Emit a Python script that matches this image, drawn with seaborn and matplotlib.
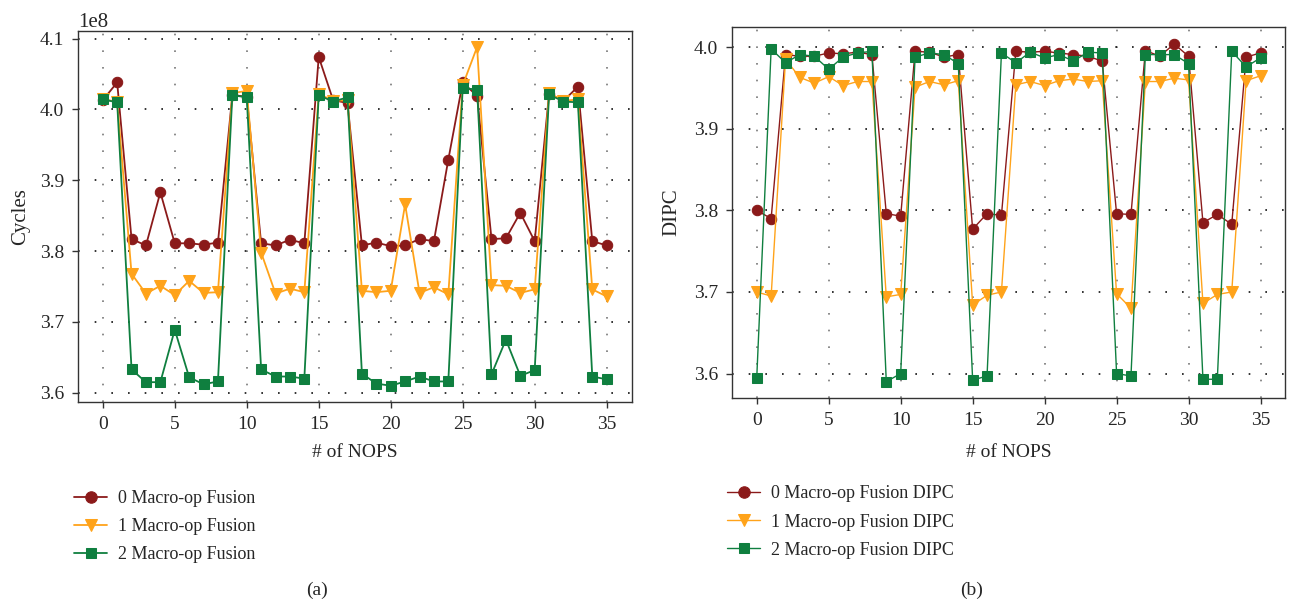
import numpy as np
import pandas as pd
import matplotlib
matplotlib.use('Agg')
import matplotlib.pyplot as plt
import seaborn as sns

sns.set_theme(style="white")
plt.rcParams['font.family'] = ['Liberation Serif', 'DejaVu Serif']

# Data
nops = list(range(36))

cycles_0 = [4.013, 4.038, 3.817, 3.808, 3.883, 3.811, 3.811, 3.809, 3.812, 4.020,
            4.018, 3.811, 3.808, 3.816, 3.811, 4.074, 4.013, 4.009, 3.808, 3.812,
            3.807, 3.808, 3.817, 3.814, 3.929, 4.038, 4.019, 3.817, 3.818, 3.854,
            3.814, 4.022, 4.012, 4.032, 3.814, 3.808]
cycles_1 = [4.014, 4.011, 3.768, 3.740, 3.751, 3.738, 3.758, 3.741, 3.742, 4.023,
            4.026, 3.798, 3.740, 3.747, 3.742, 4.022, 4.012, 4.013, 3.744, 3.742,
            3.744, 3.866, 3.741, 3.749, 3.739, 4.034, 4.088, 3.752, 3.751, 3.741,
            3.746, 4.023, 4.012, 4.014, 3.746, 3.736]
cycles_2 = [4.014, 4.010, 3.633, 3.615, 3.615, 3.689, 3.622, 3.612, 3.616, 4.020,
            4.017, 3.633, 3.623, 3.623, 3.620, 4.020, 4.011, 4.017, 3.627, 3.613,
            3.610, 3.616, 3.623, 3.616, 3.616, 4.030, 4.028, 3.626, 3.675, 3.624,
            3.632, 4.021, 4.011, 4.010, 3.623, 3.619]

dipc_0 = [3.800, 3.790, 3.991, 3.989, 3.989, 3.993, 3.992, 3.994, 3.991, 3.796,
          3.793, 3.995, 3.994, 3.988, 3.991, 3.777, 3.796, 3.794, 3.995, 3.994,
          3.995, 3.993, 3.991, 3.989, 3.983, 3.796, 3.795, 3.996, 3.989, 4.004,
          3.989, 3.785, 3.795, 3.783, 3.988, 3.993]
dipc_1 = [3.700, 3.695, 3.985, 3.963, 3.956, 3.964, 3.953, 3.958, 3.958, 3.694,
          3.697, 3.951, 3.958, 3.954, 3.959, 3.684, 3.696, 3.700, 3.954, 3.958,
          3.953, 3.959, 3.961, 3.958, 3.959, 3.698, 3.680, 3.958, 3.958, 3.962,
          3.960, 3.686, 3.697, 3.700, 3.959, 3.965]
dipc_2 = [3.595, 3.998, 3.981, 3.991, 3.989, 3.973, 3.988, 3.993, 3.995, 3.590,
          3.600, 3.988, 3.993, 3.991, 3.980, 3.592, 3.597, 3.993, 3.981, 3.994,
          3.987, 3.991, 3.983, 3.994, 3.993, 3.600, 3.597, 3.991, 3.991, 3.991,
          3.980, 3.593, 3.593, 3.995, 3.976, 3.987]

labels_a = ['0 Macro-op Fusion', '1 Macro-op Fusion', '2 Macro-op Fusion']
labels_b = ['0 Macro-op Fusion DIPC', '1 Macro-op Fusion DIPC', '2 Macro-op Fusion DIPC']

colors = ['#8b1a1a', '#ffa31a', '#0f7f3f']
markers = ['o', 'v', 's']
msizes = [7.5, 8, 7]

fig = plt.figure(figsize=(12.93, 6.06), dpi=100)
ax1 = fig.add_axes([0.0601, 0.3366, 0.4287, 0.6127])
ax2 = fig.add_axes([0.5659, 0.3432, 0.4279, 0.6118])


def style_axis(ax):
    for s in ax.spines.values():
        s.set_color('#333333')
        s.set_linewidth(1.0)
    ax.tick_params(axis='both', which='major', direction='out', length=4,
                   width=1, color='#333333', labelsize=14, left=True, bottom=True,
                   pad=6)
    ax.xaxis.grid(True, color='#777777', linestyle=(0, (1, 9)), linewidth=1.2)
    ax.yaxis.grid(True, color='#111111', linestyle=(0, (1, 9)), linewidth=1.2)
    ax.set_axisbelow(True)


series_a = [cycles_0, cycles_1, cycles_2]
for vals, lab, c, m, ms in zip(series_a, labels_a, colors, markers, msizes):
    sns.lineplot(x=nops, y=np.array(vals) * 1e8, ax=ax1, color=c, marker=m,
                 markersize=ms, markeredgecolor=c, linewidth=1.3, label=lab)

series_b = [dipc_0, dipc_1, dipc_2]
for vals, lab, c, m, ms in zip(series_b, labels_b, colors, markers, msizes):
    sns.lineplot(x=nops, y=vals, ax=ax2, color=c, marker=m,
                 markersize=ms, markeredgecolor=c, linewidth=1.0, label=lab)

ax1.set_xlim(-1.74, 36.76)
ax1.set_ylim(3.587e8, 4.111e8)
ax1.set_yticks(np.array([3.6, 3.7, 3.8, 3.9, 4.0, 4.1]) * 1e8)
ax1.set_xticks(range(0, 36, 5))
ax1.set_xlabel('# of NOPS', fontsize=14, labelpad=8)
ax1.set_ylabel('Cycles', fontsize=15, labelpad=7)
ax1.yaxis.get_offset_text().set_fontsize(15)

ax2.set_xlim(-1.74, 36.7)
ax2.set_ylim(3.570, 4.0245)
ax2.set_yticks([3.6, 3.7, 3.8, 3.9, 4.0])
ax2.set_yticklabels(['3.6', '3.7', '3.8', '3.9', '4.0'])
ax2.set_xticks(range(0, 36, 5))
ax2.set_xlabel('# of NOPS', fontsize=14, labelpad=11)
ax2.set_ylabel('DIPC', fontsize=15, labelpad=9)

style_axis(ax1)
style_axis(ax2)

ax1.legend(loc='upper left', bbox_to_anchor=(0.052, 0.203), bbox_transform=fig.transFigure,
           frameon=False, fontsize=13, handlelength=1.8, handletextpad=0.6,
           labelspacing=0.6, borderaxespad=0, markerscale=1.1)
ax2.legend(loc='upper left', bbox_to_anchor=(0.557, 0.211), bbox_transform=fig.transFigure,
           frameon=False, fontsize=13, handlelength=1.8, handletextpad=0.6,
           labelspacing=0.62, borderaxespad=0, markerscale=1.1)

fig.text(317 / 1293, 1 - 590 / 606, '(a)', ha='center', va='center', fontsize=14)
fig.text(972 / 1293, 1 - 590 / 606, '(b)', ha='center', va='center', fontsize=14)

fig.savefig('out.png', dpi=100)
